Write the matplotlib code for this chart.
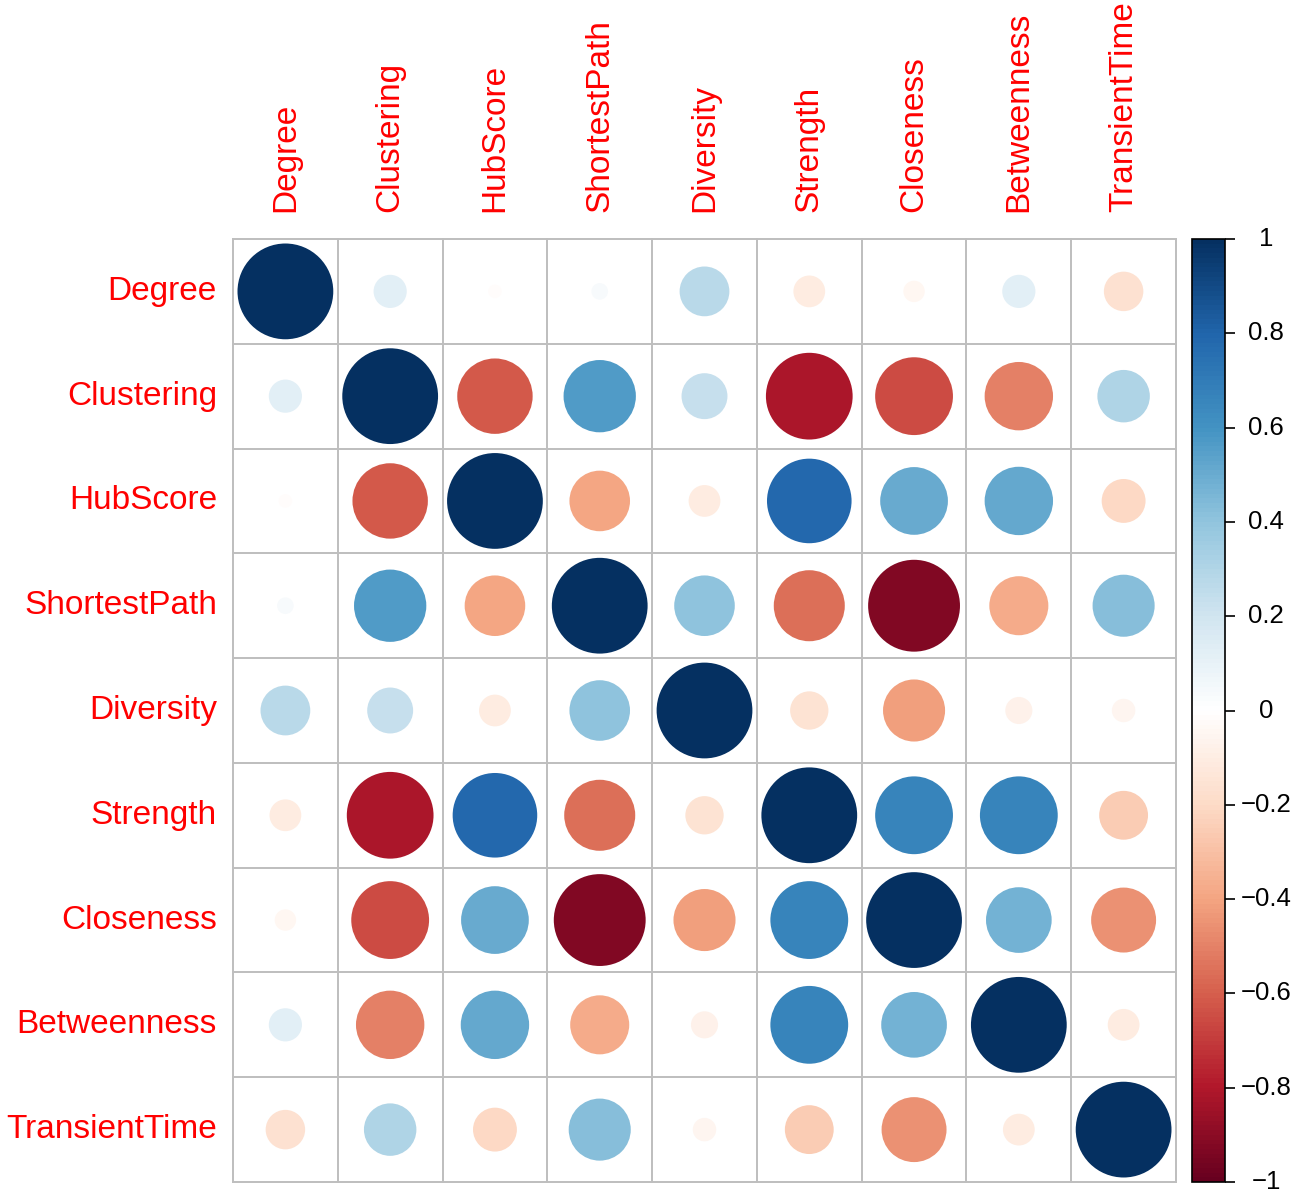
import numpy as np
import matplotlib
matplotlib.use("Agg")
import matplotlib.pyplot as plt
from matplotlib.patches import Circle
from matplotlib.colors import LinearSegmentedColormap, Normalize
from matplotlib.cm import ScalarMappable

plt.rcParams['font.family'] = ['Liberation Sans', 'DejaVu Sans']

names = ["Degree", "Clustering", "HubScore", "ShortestPath", "Diversity",
         "Strength", "Closeness", "Betweenness", "TransientTime"]

# correlation matrix (symmetric)
corr = np.array([
    [1.00, 0.12, -0.02, 0.03, 0.27, -0.11, -0.05, 0.12, -0.17],
    [0.12, 1.00, -0.62, 0.57, 0.23, -0.82, -0.66, -0.51, 0.30],
    [-0.02, -0.62, 1.00, -0.40, -0.11, 0.78, 0.50, 0.51, -0.21],
    [0.03, 0.57, -0.40, 1.00, 0.40, -0.55, -0.92, -0.38, 0.42],
    [0.27, 0.23, -0.11, 0.40, 1.00, -0.16, -0.42, -0.08, -0.06],
    [-0.11, -0.82, 0.78, -0.55, -0.16, 1.00, 0.66, 0.66, -0.26],
    [-0.05, -0.66, 0.50, -0.92, -0.42, 0.66, 1.00, 0.47, -0.46],
    [0.12, -0.51, 0.51, -0.38, -0.08, 0.66, 0.47, 1.00, -0.11],
    [-0.17, 0.30, -0.21, 0.42, -0.06, -0.26, -0.46, -0.11, 1.00],
])

cb_ticks = [-1, -0.8, -0.6, -0.4, -0.2, 0, 0.2, 0.4, 0.6, 0.8, 1]
cb_labels = ["\u22121", "\u22120.8", "\u22120.6", "\u22120.4", "\u22120.2", "0",
             "0.2", "0.4", "0.6", "0.8", "1"]

rdbu = ["#67001F", "#B2182B", "#D6604D", "#F4A582", "#FDDBC7", "#FFFFFF",
        "#D1E5F0", "#92C5DE", "#4393C3", "#2166AC", "#053061"]
cmap = LinearSegmentedColormap.from_list("rdbu", rdbu, N=200)
norm = Normalize(-1, 1)

W, H = 1310, 1197
fig = plt.figure(figsize=(W / 100, H / 100), dpi=100)

x0, x1, ytop, ybot = 233, 1176, 239, 1182
ax = fig.add_axes([x0 / W, (H - ybot) / H, (x1 - x0) / W, (ybot - ytop) / H])
n = len(names)
ax.set_xlim(0, n)
ax.set_ylim(n, 0)
ax.set_axis_off()

for i in range(n):
    for j in range(n):
        r = corr[i, j]
        ax.add_patch(Circle((j + 0.5, i + 0.5), 0.457 * np.sqrt(abs(r)),
                            facecolor=cmap(norm(r)), edgecolor='none'))

for k in range(n + 1):
    ax.plot([k, k], [0, n], color="#BEBEBE", lw=1.4, clip_on=False, zorder=3)
    ax.plot([0, n], [k, k], color="#BEBEBE", lw=1.4, clip_on=False, zorder=3)

cell = (x1 - x0) / n
for k, name in enumerate(names):
    ax.text(-16 / cell, k + 0.5, name, color="red", fontsize=24,
            ha="right", va="center")
    ax.text(k + 0.5, -27 / cell, name, color="red", fontsize=24,
            rotation=90, ha="center", va="bottom")

# colour legend
cb_x0, cb_x1 = 1192, 1225
cax = fig.add_axes([cb_x0 / W, (H - ybot) / H, (cb_x1 - cb_x0) / W, (ybot - ytop) / H])
cb = fig.colorbar(ScalarMappable(norm=norm, cmap=cmap), cax=cax)
cb.outline.set_linewidth(1.2)
cb.set_ticks(cb_ticks)
cb.set_ticklabels([])
cax.tick_params(axis="y", length=7, width=1.2, direction="out")
lab_x = (1266 - cb_x0) / (cb_x1 - cb_x0)
for t, lab in zip(cb_ticks, cb_labels):
    cax.text(lab_x, t, lab, fontsize=18.5, ha="center", va="center",
             transform=cax.get_yaxis_transform(), clip_on=False)

fig.savefig("out.png", dpi=100)
